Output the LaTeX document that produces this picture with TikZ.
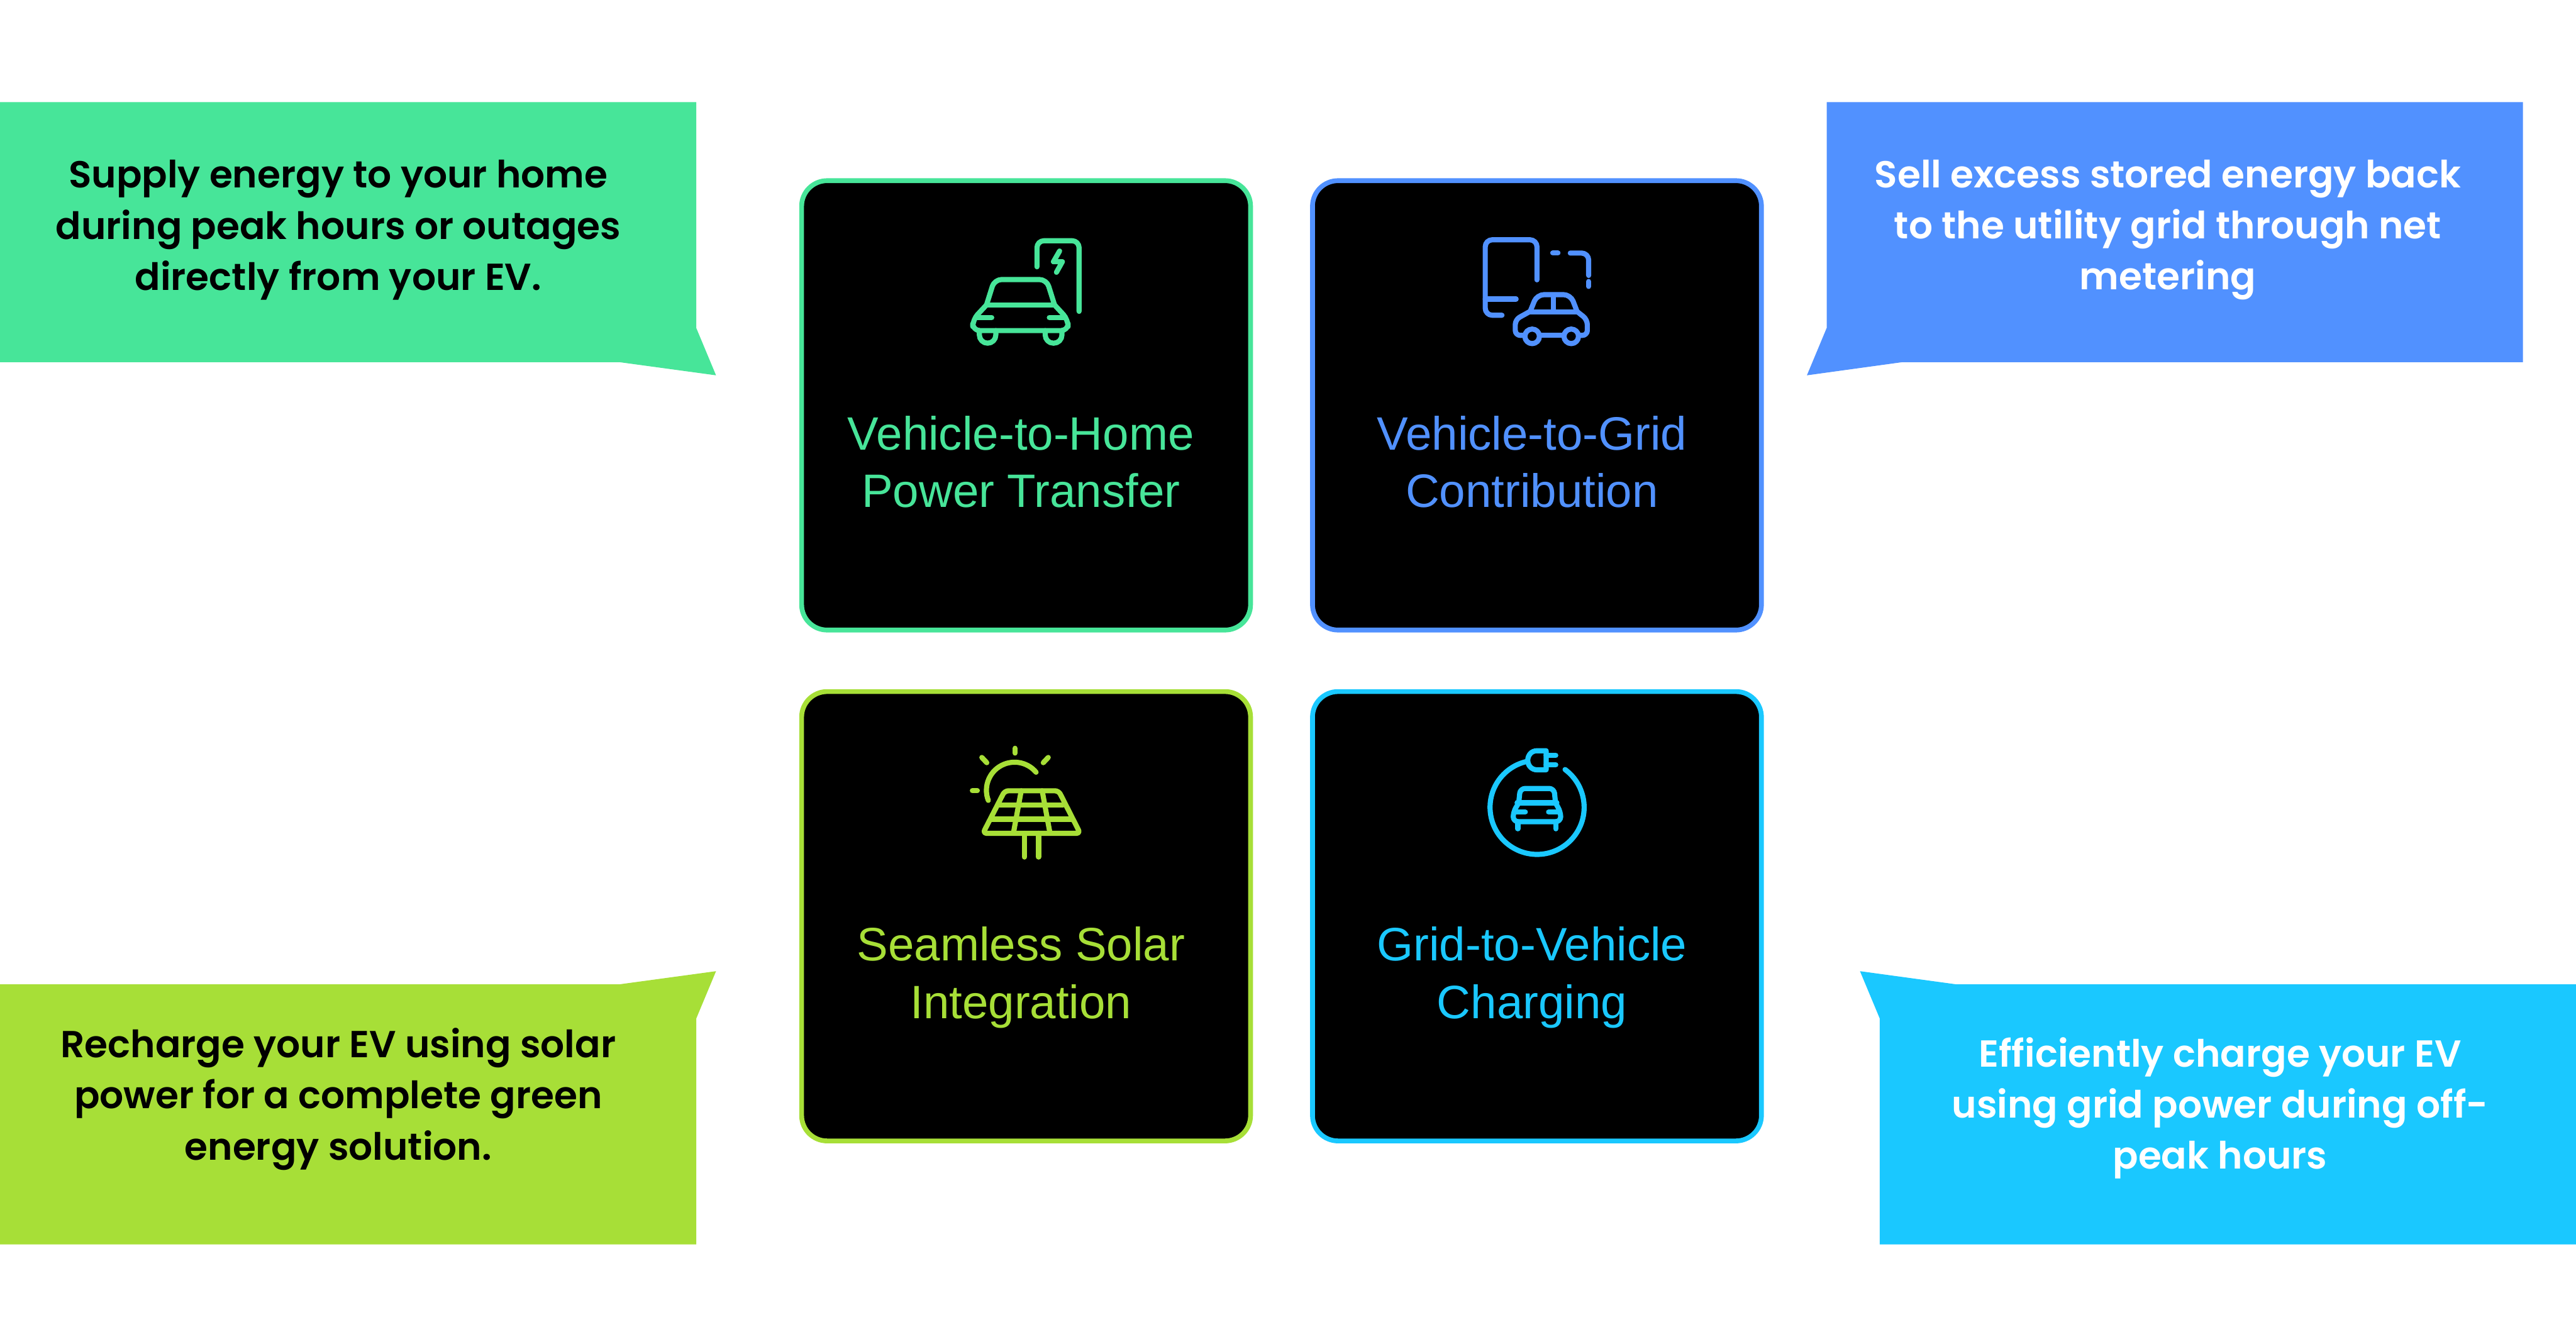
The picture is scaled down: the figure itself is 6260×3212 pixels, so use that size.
\documentclass[tikz,border=0pt]{standalone}
\usepackage{fontspec}
\usepackage{xcolor}
\setmainfont{Liberation Sans}
\newfontfamily\calloutfont{Poppins SemiBold}
\definecolor{HomeGreen} {HTML}{47E599}
\definecolor{GridBlue}  {HTML}{5191FF}
\definecolor{SolarLime} {HTML}{A7DF37}
\definecolor{ChargeCyan}{HTML}{1AC8FF}
\tikzset{
  tilebox/.style={
    draw, fill=black, rounded corners=6.2mm, line width=1.17mm,
    minimum width=109.1mm, minimum height=109.2mm, inner sep=0pt,
  },
  tiletitle/.style={
    align=center, inner sep=0pt,
    font=\fontsize{32.4}{39.8}\selectfont,
  },
  callouttext/.style={
    align=center, inner sep=0pt, text=black,
    font=\fontsize{26}{35.3}\calloutfont,
  },
  iconline/.style={
    scale=0.3333, line width=1.25mm, line cap=round, line join=round,
    rounded corners=1.7mm,
  },
}

\begin{document}
\begin{tikzpicture}[x=0.1mm, y=-0.1mm]

\useasboundingbox (0,0) rectangle (6260,3212);

% ── Callouts ──────────────────────────────────────────────────────────────
\fill[HomeGreen]  (0,248) -- (1692,248) -- (1692,797) -- (1740,912) -- (1505,880) -- (0,880) -- cycle;
\fill[GridBlue]   (4439,248) -- (6131,248) -- (6131,880) -- (4623,880) -- (4391,912) -- (4439,797) -- cycle;
\fill[SolarLime]  (0,2392) -- (1505,2392) -- (1740,2360) -- (1692,2475) -- (1692,3024) -- (0,3024) -- cycle;
\fill[ChargeCyan] (4520,2360) -- (4754,2392) -- (6260,2392) -- (6260,3024) -- (4568,3024) -- (4568,2475) -- cycle;

\node[callouttext]             (homeText)   at (822,559)   {Supply energy to your home\\during peak hours or outages\\directly from your EV.};
\node[callouttext, text=white] (gridText)   at (5268,559)  {Sell excess stored energy back\\to the utility grid through net\\metering};
\node[callouttext]             (solarText)  at (822,2671)  {Recharge your EV using solar\\power for a complete green\\energy solution.};
\node[callouttext, text=white] (chargeText) at (5395,2693) {Efficiently charge your EV\\using grid power during off-\\peak hours};

% ── Tiles ─────────────────────────────────────────────────────────────────
\node[tilebox, draw=HomeGreen]  (homeBox)   at (2493.5,985)  {};
\node[tilebox, draw=GridBlue]   (gridBox)   at (3735,985)    {};
\node[tilebox, draw=SolarLime]  (solarBox)  at (2493.5,2226.5) {};
\node[tilebox, draw=ChargeCyan] (chargeBox) at (3735,2226.5)   {};

\node[tiletitle, text=HomeGreen]  (homeTitle)   at (2481,1122) {Vehicle-to-Home\\Power Transfer};
\node[tiletitle, text=GridBlue]   (gridTitle)   at (3723,1122) {Vehicle-to-Grid\\Contribution};
\node[tiletitle, text=SolarLime]  (solarTitle)  at (2481,2375) {Seamless Solar\\Integration};
\node[tiletitle, text=ChargeCyan] (chargeTitle) at (3723,2375) {Grid-to-Vehicle\\Charging};

% ── Icons ─────────────────────────────────────────────────────────────────
% car at a charging post
\begin{scope}[shift={(2200,520)}, iconline, color=HomeGreen]
  \draw (960,385) -- (960,195) -- (1267,195) -- (1267,710);
  \draw[rounded corners=0pt] (1125,270) -- (1080,348) -- (1145,348) -- (1102,425);
  \draw (592,663) -- (650,478) -- (1030,478) -- (1088,663);
  \draw[rounded corners=0pt] (592,663) -- (1088,663);
  \draw (592,663) -- (492,770) -- (492,850) -- (1187,850) -- (1187,770) -- (1088,663);
  \draw (520,755) -- (630,755);
  \draw (1050,755) -- (1160,755);
  \draw[rounded corners=2mm] (540,850) -- (540,942) -- (660,942) -- (660,850);
  \draw[rounded corners=2mm] (1020,850) -- (1020,942) -- (1142,942) -- (1142,850);
\end{scope}

% car in front of a tablet
\begin{scope}[shift={(3450,520)}, iconline, color=GridBlue]
  \draw (855,480) -- (855,188) -- (478,188) -- (478,738) -- (600,738);
  \draw (478,620) -- (703,620);
  \draw (970,285) -- (1008,285);
  \draw (1098,285) -- (1232,285) -- (1232,448);
  \draw (1232,492) -- (1232,528);
  \draw (805,712) -- (855,588) -- (1100,588) -- (1148,712);
  \draw (800,713) -- (1150,713);
  \draw (975,590) -- (975,712);
  \draw[rounded corners=1.2mm] (800,713) -- (697,770) -- (697,885) -- (765,885);
  \draw (880,885) -- (1045,885);
  \draw[rounded corners=1.2mm] (1150,713) -- (1222,770) -- (1222,885) -- (1175,885);
  \draw (820,892) circle[radius=53];
  \draw (1105,892) circle[radius=53];
\end{scope}

% solar panel under a sun
\begin{scope}[shift={(2200,1780)}, iconline, color=SolarLime]
  \draw (800,115) -- (800,150);
  \draw (558,182) -- (594,220);
  \draw (1042,182) -- (1006,220);
  \draw (489,424) -- (525,424);
  \draw (605,495) arc[start angle=159, end angle=320, radius=205];
  \draw[rounded corners=0.9mm] (725,425) -- (1118,425) -- (1275,735) -- (566,735) -- cycle;
  \draw (685,528) -- (1150,528);
  \draw (630,632) -- (1210,632);
  \draw (845,425) -- (788,735);
  \draw (998,425) -- (1055,735);
  \draw (868,735) -- (868,908);
  \draw (972,735) -- (972,908);
\end{scope}

% car inside a plug cable
\begin{scope}[shift={(3450,1780)}, iconline, color=ChargeCyan]
  \draw (1060,270) arc[start angle=306.5, end angle=616.6, radius=343];
  \draw[rounded corners=0pt] (922,133) -- (855,133) .. controls (815,133) and (788,165) .. (788,203)
    .. controls (788,240) and (815,272) .. (855,272) -- (922,272) -- cycle;
  \draw (922,167) -- (992,167);
  \draw (922,235) -- (992,235);
  \draw[rounded corners=1.2mm] (722,513) -- (733,408) -- (980,408) -- (990,513);
  \draw (710,513) -- (1000,513);
  \draw[rounded corners=1.2mm] (722,513) -- (682,580) -- (682,650) -- (1028,650) -- (1028,580) -- (990,513);
  \draw (700,580) -- (770,580);
  \draw (940,580) -- (1010,580);
  \draw (716,650) -- (716,702);
  \draw (992,650) -- (992,702);
\end{scope}

\end{tikzpicture}
\end{document}
